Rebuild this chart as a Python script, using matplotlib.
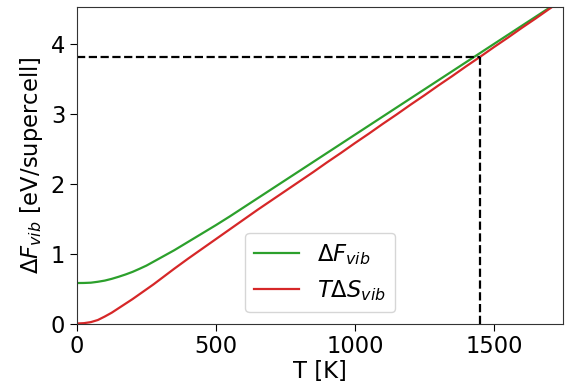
import matplotlib
matplotlib.use("Agg")
import matplotlib.pyplot as plt

T = [0, 25, 50, 75, 100, 125, 150, 175, 200, 225, 250, 275, 300, 350, 400,
     450, 500, 550, 600, 650, 700, 750, 800, 850, 900, 950, 1000, 1050, 1100,
     1150, 1200, 1250, 1300, 1350, 1400, 1450, 1500, 1550, 1600, 1650, 1700,
     1750]
dF_vib = [0.58, 0.581, 0.585, 0.598, 0.615, 0.64, 0.67, 0.703, 0.74, 0.784,
          0.83, 0.885, 0.94, 1.05, 1.17, 1.29, 1.41, 1.535, 1.665, 1.795,
          1.925, 2.055, 2.185, 2.315, 2.445, 2.575, 2.705, 2.835, 2.965, 3.095,
          3.225, 3.355, 3.485, 3.615, 3.745, 3.875, 4.005, 4.135, 4.265, 4.395,
          4.525, 4.655]
TdS_vib = [0.0, 0.005, 0.02, 0.05, 0.10, 0.155, 0.22, 0.285, 0.35, 0.42, 0.49,
           0.56, 0.635, 0.785, 0.93, 1.07, 1.21, 1.35, 1.49, 1.63, 1.765, 1.90,
           2.035, 2.17, 2.31, 2.445, 2.585, 2.72, 2.86, 2.995, 3.135, 3.27,
           3.41, 3.545, 3.685, 3.82, 3.96, 4.095, 4.235, 4.37, 4.51, 4.645]
T_mark = 1450
F_mark = 3.82

fs = 16.3
fig = plt.figure(figsize=(5.69, 3.90), dpi=100)
ax = fig.add_axes([0.1353, 0.1705, 0.8547, 0.8105])
ax.plot(T, dF_vib, color="#2ca02c", lw=1.6, label=r"$\Delta F_{vib}$")
ax.plot(T, TdS_vib, color="#d62728", lw=1.6, label=r"$T\Delta S_{vib}$")
ax.plot([0, T_mark], [F_mark, F_mark], "k--", lw=1.6)
ax.plot([T_mark, T_mark], [0, F_mark], "k--", lw=1.6)
ax.set_xlim(0, 1750)
ax.set_ylim(0, 4.53)
ax.set_xticks([0, 500, 1000, 1500])
ax.set_yticks([0, 1, 2, 3, 4])
ax.tick_params(labelsize=fs, length=5)
ax.set_xlabel("T [K]", fontsize=fs, labelpad=1)
ax.set_ylabel(r"$\Delta F_{vib}$ [eV/supercell]", fontsize=fs, labelpad=4)
for s in ax.spines.values():
    s.set_color("#333333")
ax.legend(loc="lower center", fontsize=fs)
fig.savefig("out.png", dpi=100)
